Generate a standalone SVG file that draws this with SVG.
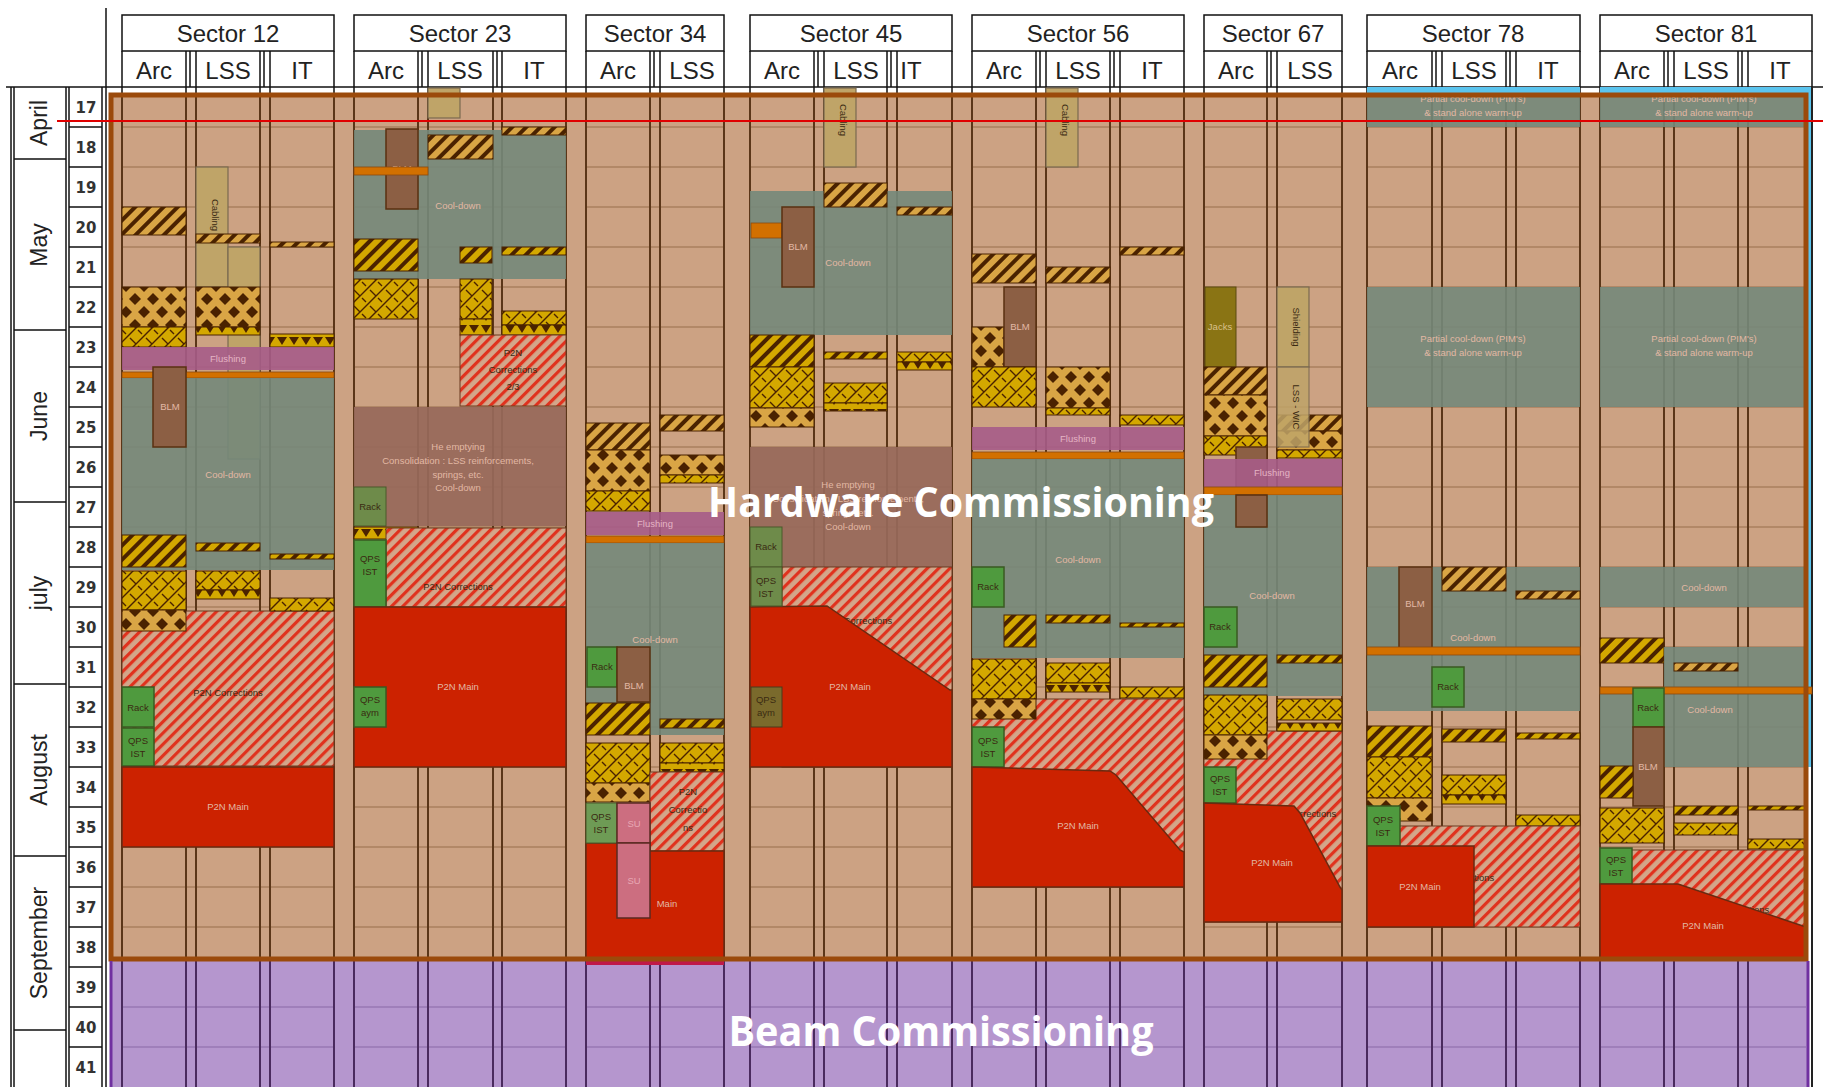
<svg xmlns="http://www.w3.org/2000/svg" width="1823" height="1087" viewBox="0 0 1823 1087">
<style>
.hdr{font-family:"Liberation Sans",Arial,sans-serif;font-size:24px;fill:#222;text-anchor:middle}
.mon{font-family:"Liberation Sans",Arial,sans-serif;font-size:23px;fill:#222;text-anchor:middle}
.wk{font-family:"DejaVu Sans",sans-serif;font-size:15px;font-weight:bold;fill:#333;text-anchor:middle}
.t{font-family:"Liberation Sans",Arial,sans-serif;font-size:9.5px;text-anchor:middle}
.lt{fill:#E2B8A4}
.dk{fill:#3A2A12}
.tl{fill:#74887A;opacity:.9}
.fl{fill:#A65C88;opacity:.9}
.or{fill:#D27000;stroke:#8A4A10;stroke-width:.8}
.blm{fill:#8C5F44;stroke:#5A3010;stroke-width:1.5}
.he{fill:#97685A;opacity:.93}
.rk{fill:#4F9A3E;stroke:#3A5A22;stroke-width:1.5}
.ro{fill:#6E8B4A;stroke:#4A5A2A;stroke-width:1}
.rm{fill:#CC2200;stroke:#6A2A10;stroke-width:1.5}
.rh{fill:url(#pR);stroke:#6A3A20;stroke-width:1}
.hl{fill:url(#pHL);stroke:#4A2200;stroke-width:1}
.hd{fill:url(#pHD);stroke:#4A2200;stroke-width:1}
.dm{fill:url(#pDm);stroke:#4A2200;stroke-width:1}
.bk{fill:url(#pBk);stroke:#4A2200;stroke-width:1}
.tr{fill:url(#pTr);stroke:#4A2200;stroke-width:1}
.yb{fill:#BFA468;stroke:#7A6A50;stroke-width:1.2}
.rl{stroke:#A9805F;stroke-width:1.5}
.cl{stroke:#5B3618;stroke-width:2}
.pl{stroke:#4A2A5E;stroke-width:2}
.prl{stroke:#9878B4;stroke-width:1.5}
.bl{stroke:#111;stroke-width:1.5;fill:none}
</style>
<defs>
<pattern id="pHL" width="10" height="10" patternUnits="userSpaceOnUse" patternTransform="rotate(45)"><rect width="10" height="10" fill="#D9A545"/><rect width="4" height="10" fill="#4A2200"/></pattern>
<pattern id="pHD" width="10" height="10" patternUnits="userSpaceOnUse" patternTransform="rotate(45)"><rect width="10" height="10" fill="#D4A800"/><rect width="4" height="10" fill="#4A2200"/></pattern>
<pattern id="pR" width="8" height="8" patternUnits="userSpaceOnUse" patternTransform="rotate(45)"><rect width="8" height="8" fill="#D3A68A"/><rect width="3.2" height="8" fill="#E0321E"/></pattern>
<pattern id="pDm" width="18" height="26" patternUnits="userSpaceOnUse"><rect width="18" height="26" fill="#D9A545"/><polygon points="9,7 15,13 9,19 3,13" fill="#4A2200"/><polygon points="0,-6 6,0 0,6 -6,0" fill="#4A2200"/><polygon points="18,-6 24,0 18,6 12,0" fill="#4A2200"/><polygon points="0,20 6,26 0,32 -6,26" fill="#4A2200"/><polygon points="18,20 24,26 18,32 12,26" fill="#4A2200"/></pattern>
<pattern id="pBk" width="16" height="16" patternUnits="userSpaceOnUse"><rect width="16" height="16" fill="#D4A800"/><path d="M0,16 L16,0 M-4,4 L4,-4 M12,20 L20,12 M2,2 L8,8 M10,10 L14,14" stroke="#4A2200" stroke-width="1.4" fill="none"/></pattern>
<pattern id="pTr" width="12" height="12" patternUnits="userSpaceOnUse"><rect width="12" height="12" fill="#D4A800"/><polygon points="1,1 11,1 6,9" fill="#4A2200"/></pattern>
</defs>

<rect width="1823" height="1087" fill="#fff"/>

<g id="axis">
  <line class="bl" x1="6" y1="87" x2="1823" y2="87"/>
  <line class="bl" x1="106" y1="8" x2="106" y2="1087"/>
  <line class="bl" x1="11" y1="87" x2="11" y2="1087"/>
  <line class="bl" x1="14" y1="87" x2="14" y2="1087"/>
  <line class="bl" x1="66" y1="87" x2="66" y2="1087"/>
  <line class="bl" x1="69" y1="87" x2="69" y2="1087"/>
  <line class="bl" x1="102" y1="87" x2="102" y2="1087"/>
  <path class="bl" d="M14,159H66M14,330H66M14,502H66M14,684H66M14,856H66M14,1030H66"/>
  <path class="bl" d="M69,127H102M69,167H102M69,207H102M69,247H102M69,287H102M69,327H102M69,367H102M69,407H102M69,447H102M69,487H102M69,527H102M69,567H102M69,607H102M69,647H102M69,687H102M69,727H102M69,767H102M69,807H102M69,847H102M69,887H102M69,927H102M69,967H102M69,1007H102M69,1047H102"/>
  <text class="mon" transform="translate(47,123) rotate(-90)">April</text>
  <text class="mon" transform="translate(47,245) rotate(-90)">May</text>
  <text class="mon" transform="translate(47,416) rotate(-90)">June</text>
  <text class="mon" transform="translate(47,593) rotate(-90)">july</text>
  <text class="mon" transform="translate(47,770) rotate(-90)">August</text>
  <text class="mon" transform="translate(47,943) rotate(-90)">September</text>
  <text class="wk" x="86" y="113">17</text><text class="wk" x="86" y="153">18</text><text class="wk" x="86" y="193">19</text><text class="wk" x="86" y="233">20</text><text class="wk" x="86" y="273">21</text><text class="wk" x="86" y="313">22</text><text class="wk" x="86" y="353">23</text><text class="wk" x="86" y="393">24</text><text class="wk" x="86" y="433">25</text><text class="wk" x="86" y="473">26</text><text class="wk" x="86" y="513">27</text><text class="wk" x="86" y="553">28</text><text class="wk" x="86" y="593">29</text><text class="wk" x="86" y="633">30</text><text class="wk" x="86" y="673">31</text><text class="wk" x="86" y="713">32</text><text class="wk" x="86" y="753">33</text><text class="wk" x="86" y="793">34</text><text class="wk" x="86" y="833">35</text><text class="wk" x="86" y="873">36</text><text class="wk" x="86" y="913">37</text><text class="wk" x="86" y="953">38</text><text class="wk" x="86" y="993">39</text><text class="wk" x="86" y="1033">40</text><text class="wk" x="86" y="1073">41</text>
</g>

<g id="headers">
  <rect class="bl" x="122" y="15" width="212" height="36"/><text class="hdr" x="228" y="42">Sector 12</text>
  <rect class="bl" x="354" y="15" width="212" height="36"/><text class="hdr" x="460" y="42">Sector 23</text>
  <rect class="bl" x="586" y="15" width="138" height="36"/><text class="hdr" x="655" y="42">Sector 34</text>
  <rect class="bl" x="750" y="15" width="202" height="36"/><text class="hdr" x="851" y="42">Sector 45</text>
  <rect class="bl" x="972" y="15" width="212" height="36"/><text class="hdr" x="1078" y="42">Sector 56</text>
  <rect class="bl" x="1204" y="15" width="138" height="36"/><text class="hdr" x="1273" y="42">Sector 67</text>
  <rect class="bl" x="1367" y="15" width="213" height="36"/><text class="hdr" x="1473" y="42">Sector 78</text>
  <rect class="bl" x="1600" y="15" width="212" height="36"/><text class="hdr" x="1706" y="42">Sector 81</text>
  <path class="bl" d="M122,51V95M186,51V95M190,51V87M196,51V95M260,51V95M264,51V87M270,51V95M334,51V95
  M354,51V95M418,51V95M422,51V87M428,51V95M493,51V95M497,51V87M502,51V95M566,51V95
  M586,51V95M650,51V95M654,51V87M660,51V95M724,51V95
  M750,51V95M814,51V95M818,51V87M824,51V95M887,51V95M891,51V87M897,51V95M952,51V95
  M972,51V95M1036,51V95M1040,51V87M1046,51V95M1110,51V95M1114,51V87M1120,51V95M1184,51V95
  M1204,51V95M1267,51V95M1271,51V87M1277,51V95M1342,51V95
  M1367,51V95M1432,51V95M1436,51V87M1442,51V95M1506,51V95M1510,51V87M1516,51V95M1580,51V95
  M1600,51V95M1664,51V95M1668,51V87M1674,51V95M1738,51V95M1742,51V87M1748,51V95M1812,51V95"/>
  <text class="hdr" x="154" y="79">Arc</text><text class="hdr" x="228" y="79">LSS</text><text class="hdr" x="302" y="79">IT</text>
  <text class="hdr" x="386" y="79">Arc</text><text class="hdr" x="460" y="79">LSS</text><text class="hdr" x="534" y="79">IT</text>
  <text class="hdr" x="618" y="79">Arc</text><text class="hdr" x="692" y="79">LSS</text>
  <text class="hdr" x="782" y="79">Arc</text><text class="hdr" x="856" y="79">LSS</text><text class="hdr" x="911" y="79">IT</text>
  <text class="hdr" x="1004" y="79">Arc</text><text class="hdr" x="1078" y="79">LSS</text><text class="hdr" x="1152" y="79">IT</text>
  <text class="hdr" x="1236" y="79">Arc</text><text class="hdr" x="1310" y="79">LSS</text>
  <text class="hdr" x="1400" y="79">Arc</text><text class="hdr" x="1474" y="79">LSS</text><text class="hdr" x="1548" y="79">IT</text>
  <text class="hdr" x="1632" y="79">Arc</text><text class="hdr" x="1706" y="79">LSS</text><text class="hdr" x="1780" y="79">IT</text>
</g>

<g id="background">
  <rect x="1367" y="87" width="213" height="8" fill="#5BC4EE"/>
  <rect x="1600" y="87" width="212" height="8" fill="#5BC4EE"/>
  <rect x="1806" y="95" width="6" height="672" fill="#5BC4EE"/>
  <rect x="111" y="95" width="1695" height="864" fill="#CCA283"/>
  <rect x="111" y="961" width="1697" height="126" fill="#B596CE"/>
  <path class="rl" d="M122,127H334M122,167H334M122,207H334M122,247H334M122,287H334M122,327H334M122,367H334M122,407H334M122,447H334M122,487H334M122,527H334M122,567H334M122,607H334M122,647H334M122,687H334M122,727H334M122,767H334M122,807H334M122,847H334M122,887H334M122,927H334
  M354,127H566M354,167H566M354,207H566M354,247H566M354,287H566M354,327H566M354,367H566M354,407H566M354,447H566M354,487H566M354,527H566M354,567H566M354,607H566M354,647H566M354,687H566M354,727H566M354,767H566M354,807H566M354,847H566M354,887H566M354,927H566
  M586,127H724M586,167H724M586,207H724M586,247H724M586,287H724M586,327H724M586,367H724M586,407H724M586,447H724M586,487H724M586,527H724M586,567H724M586,607H724M586,647H724M586,687H724M586,727H724M586,767H724M586,807H724M586,847H724M586,887H724M586,927H724
  M750,127H952M750,167H952M750,207H952M750,247H952M750,287H952M750,327H952M750,367H952M750,407H952M750,447H952M750,487H952M750,527H952M750,567H952M750,607H952M750,647H952M750,687H952M750,727H952M750,767H952M750,807H952M750,847H952M750,887H952M750,927H952
  M972,127H1184M972,167H1184M972,207H1184M972,247H1184M972,287H1184M972,327H1184M972,367H1184M972,407H1184M972,447H1184M972,487H1184M972,527H1184M972,567H1184M972,607H1184M972,647H1184M972,687H1184M972,727H1184M972,767H1184M972,807H1184M972,847H1184M972,887H1184M972,927H1184
  M1204,127H1342M1204,167H1342M1204,207H1342M1204,247H1342M1204,287H1342M1204,327H1342M1204,367H1342M1204,407H1342M1204,447H1342M1204,487H1342M1204,527H1342M1204,567H1342M1204,607H1342M1204,647H1342M1204,687H1342M1204,727H1342M1204,767H1342M1204,807H1342M1204,847H1342M1204,887H1342M1204,927H1342
  M1367,127H1580M1367,167H1580M1367,207H1580M1367,247H1580M1367,287H1580M1367,327H1580M1367,367H1580M1367,407H1580M1367,447H1580M1367,487H1580M1367,527H1580M1367,567H1580M1367,607H1580M1367,647H1580M1367,687H1580M1367,727H1580M1367,767H1580M1367,807H1580M1367,847H1580M1367,887H1580M1367,927H1580
  M1600,127H1806M1600,167H1806M1600,207H1806M1600,247H1806M1600,287H1806M1600,327H1806M1600,367H1806M1600,407H1806M1600,447H1806M1600,487H1806M1600,527H1806M1600,567H1806M1600,607H1806M1600,647H1806M1600,687H1806M1600,727H1806M1600,767H1806M1600,807H1806M1600,847H1806M1600,887H1806M1600,927H1806"/>
  <path class="prl" d="M122,1007H334M354,1007H566M586,1007H724M750,1007H952M972,1007H1184M1204,1007H1342M1367,1007H1580M1600,1007H1806M122,1047H334M354,1047H566M586,1047H724M750,1047H952M972,1047H1184M1204,1047H1342M1367,1047H1580M1600,1047H1806"/>
  <path class="cl" d="M122,95V961M186,95V961M196,95V961M260,95V961M270,95V961M334,95V961M354,95V961M418,95V961M428,95V961M493,95V961M502,95V961M566,95V961M586,95V961M650,95V961M660,95V961M724,95V961M750,95V961M814,95V961M824,95V961M887,95V961M897,95V961M952,95V961M972,95V961M1036,95V961M1046,95V961M1110,95V961M1120,95V961M1184,95V961M1204,95V961M1267,95V961M1277,95V961M1342,95V961M1367,95V961M1432,95V961M1442,95V961M1506,95V961M1516,95V961M1580,95V961M1600,95V961M1664,95V961M1674,95V961M1738,95V961M1748,95V961"/>
  <path class="pl" d="M122,961V1087M186,961V1087M196,961V1087M260,961V1087M270,961V1087M334,961V1087M354,961V1087M418,961V1087M428,961V1087M493,961V1087M502,961V1087M566,961V1087M586,961V1087M650,961V1087M660,961V1087M724,961V1087M750,961V1087M814,961V1087M824,961V1087M887,961V1087M897,961V1087M952,961V1087M972,961V1087M1036,961V1087M1046,961V1087M1110,961V1087M1120,961V1087M1184,961V1087M1204,961V1087M1267,961V1087M1277,961V1087M1342,961V1087M1367,961V1087M1432,961V1087M1442,961V1087M1506,961V1087M1516,961V1087M1580,961V1087M1600,961V1087M1664,961V1087M1674,961V1087M1738,961V1087M1748,961V1087"/>
  <line x1="1812" y1="87" x2="1812" y2="1087" stroke="#222" stroke-width="2"/>
</g>

<g id="sector12">
  <rect class="yb" x="196" y="167" width="32" height="120"/>
  <text class="t dk" font-size="8" transform="translate(212,215) rotate(90)">Cabling</text>
  <rect class="yb" x="228" y="247" width="32" height="212"/>
  <rect class="hl" x="122" y="207" width="64" height="28"/>
  <rect class="hl" x="196" y="234" width="64" height="9"/>
  <rect class="hl" x="270" y="242" width="64" height="5"/>
  <rect class="dm" x="122" y="287" width="64" height="40"/>
  <rect class="bk" x="122" y="327" width="64" height="20"/>
  <rect class="dm" x="196" y="287" width="64" height="40"/>
  <rect class="tr" x="196" y="327" width="64" height="8"/>
  <rect class="tr" x="270" y="334" width="64" height="13"/>
  <rect class="fl" x="122" y="347" width="212" height="23"/>
  <text class="t" fill="#E4B4C4" x="228" y="362">Flushing</text>
  <rect class="or" x="122" y="372" width="212" height="6"/>
  <rect class="tl" x="122" y="378" width="212" height="192"/>
  <text class="t lt" x="228" y="478">Cool-down</text>
  <rect class="blm" x="153" y="367" width="33" height="80"/>
  <text class="t lt" x="170" y="410">BLM</text>
  <rect class="hd" x="122" y="535" width="64" height="32"/>
  <rect class="hd" x="196" y="543" width="64" height="8"/>
  <rect class="hd" x="270" y="554" width="64" height="5"/>
  <rect class="rh" x="122" y="611" width="212" height="155"/>
  <rect class="bk" x="122" y="571" width="64" height="39"/>
  <rect class="dm" x="122" y="610" width="64" height="21"/>
  <rect class="bk" x="196" y="571" width="64" height="19"/>
  <rect class="tr" x="196" y="590" width="64" height="9"/>
  <rect class="bk" x="270" y="598" width="64" height="13"/>
  <text class="t dk" font-size="11" x="228" y="696">P2N Corrections</text>
  <rect class="rk" x="122" y="687" width="32" height="40"/>
  <text class="t dk" x="138" y="711">Rack</text>
  <rect class="rk" x="122" y="728" width="32" height="38"/>
  <text class="t dk" x="138" y="744">QPS</text><text class="t dk" x="138" y="757">IST</text>
  <rect class="rm" x="122" y="767" width="212" height="80"/>
  <text class="t lt" x="228" y="810">P2N Main</text>
</g>

<g id="sector23">
  <rect class="yb" x="428" y="88" width="32" height="30"/>
  <rect class="tl" x="354" y="130" width="212" height="149"/>
  <text class="t lt" x="458" y="209">Cool-down</text>
  <rect class="blm" x="386" y="129" width="32" height="80"/>
  <text class="t lt" x="402" y="172">BLM</text>
  <rect class="or" x="354" y="167" width="74" height="8"/>
  <rect class="hl" x="428" y="135" width="65" height="24"/>
  <rect class="hl" x="502" y="127" width="64" height="8"/>
  <rect class="hd" x="354" y="239" width="64" height="32"/>
  <rect class="hd" x="460" y="247" width="32" height="16"/>
  <rect class="hd" x="502" y="247" width="64" height="8"/>
  <rect class="bk" x="354" y="279" width="64" height="40"/>
  <rect class="bk" x="460" y="279" width="32" height="40"/>
  <rect class="tr" x="460" y="319" width="32" height="16"/>
  <rect class="bk" x="502" y="311" width="64" height="14"/>
  <rect class="tr" x="502" y="325" width="64" height="10"/>
  <rect class="rh" x="460" y="335" width="106" height="71"/>
  <text class="t dk" font-size="10" x="513" y="356">P2N</text>
  <text class="t dk" font-size="10" x="513" y="373">Corrections</text>
  <text class="t dk" font-size="10" x="513" y="390">2/3</text>
  <rect class="he" x="354" y="407" width="212" height="119"/>
  <text class="t lt" x="458" y="450">He emptying</text>
  <text class="t lt" x="458" y="464">Consolidation : LSS reinforcements,</text>
  <text class="t lt" x="458" y="478">springs, etc.</text>
  <text class="t lt" x="458" y="491">Cool-down</text>
  <rect class="ro" x="354" y="487" width="32" height="39"/>
  <text class="t dk" x="370" y="510">Rack</text>
  <rect class="tr" x="354" y="527" width="64" height="12"/>
  <rect class="rh" x="386" y="528" width="180" height="79"/>
  <text class="t dk" font-size="11" x="458" y="590">P2N Corrections</text>
  <rect class="rk" x="354" y="540" width="32" height="67"/>
  <text class="t dk" x="370" y="562">QPS</text><text class="t dk" x="370" y="575">IST</text>
  <rect class="rm" x="354" y="607" width="212" height="160"/>
  <text class="t lt" x="458" y="690">P2N Main</text>
  <rect class="rk" x="354" y="687" width="32" height="40"/>
  <text class="t dk" x="370" y="703">QPS</text><text class="t dk" x="370" y="716">aym</text>
</g>

<g id="sector34">
  <rect class="hl" x="586" y="423" width="64" height="27"/>
  <rect class="dm" x="586" y="450" width="64" height="41"/>
  <rect class="bk" x="586" y="491" width="64" height="20"/>
  <rect class="hl" x="660" y="415" width="64" height="16"/>
  <rect class="dm" x="660" y="455" width="64" height="20"/>
  <rect class="bk" x="660" y="475" width="64" height="8"/>
  <rect class="fl" x="586" y="512" width="138" height="23"/>
  <text class="t" fill="#E4B4C4" x="655" y="527">Flushing</text>
  <rect class="or" x="586" y="536" width="138" height="7"/>
  <rect class="tl" x="586" y="543" width="138" height="192"/>
  <text class="t lt" x="655" y="643">Cool-down</text>
  <rect class="rk" x="587" y="647" width="30" height="40"/>
  <text class="t dk" x="602" y="670">Rack</text>
  <rect class="blm" x="617" y="647" width="33" height="55"/>
  <text class="t lt" x="634" y="689">BLM</text>
  <rect class="hd" x="586" y="703" width="64" height="32"/>
  <rect class="hd" x="660" y="719" width="64" height="9"/>
  <rect class="bk" x="586" y="743" width="64" height="40"/>
  <rect class="dm" x="586" y="783" width="64" height="19"/>
  <rect class="bk" x="660" y="743" width="64" height="20"/>
  <rect class="tr" x="660" y="763" width="64" height="9"/>
  <rect class="rh" x="650" y="772" width="74" height="79"/>
  <text class="t dk" font-size="10" x="688" y="795">P2N</text>
  <text class="t dk" font-size="10" x="688" y="813">Correctio</text>
  <text class="t dk" font-size="10" x="688" y="831">ns</text>
  <rect x="586" y="959" width="138" height="6" fill="#C01848"/>
  <path class="rm" d="M586,843H650V851H724V959H586Z"/>
  <text class="t lt" x="667" y="907">Main</text>
  <rect fill="#6E9B55" stroke="#4A5A2A" x="586" y="803" width="31" height="40"/>
  <text class="t dk" x="601" y="820">QPS</text><text class="t dk" x="601" y="833">IST</text>
  <rect fill="#CC6E80" stroke="#5A2A20" stroke-width="1.5" x="617" y="803" width="33" height="40"/>
  <text class="t" fill="#E8A8B4" x="634" y="827">SU</text>
  <rect fill="#CC6E80" stroke="#5A2A20" stroke-width="1.5" x="617" y="843" width="33" height="75"/>
  <text class="t" fill="#E8A8B4" x="634" y="884">SU</text>
</g>

<g id="sector45">
  <rect class="yb" x="824" y="88" width="32" height="79"/>
  <text class="t dk" font-size="8" transform="translate(840,120) rotate(90)">Cabling</text>
  <rect class="tl" x="750" y="191" width="202" height="144"/>
  <text class="t lt" x="848" y="266">Cool-down</text>
  <rect class="hl" x="824" y="183" width="63" height="24"/>
  <rect class="hl" x="897" y="207" width="55" height="8"/>
  <rect class="or" x="751" y="223" width="31" height="15"/>
  <rect class="blm" x="782" y="207" width="32" height="80"/>
  <text class="t lt" x="798" y="250">BLM</text>
  <rect class="hd" x="750" y="335" width="64" height="32"/>
  <rect class="bk" x="750" y="367" width="64" height="41"/>
  <rect class="dm" x="750" y="408" width="64" height="19"/>
  <rect class="hd" x="824" y="352" width="63" height="7"/>
  <rect class="bk" x="897" y="352" width="55" height="10"/>
  <rect class="tr" x="897" y="362" width="55" height="8"/>
  <rect class="bk" x="824" y="383" width="63" height="20"/>
  <rect class="tr" x="824" y="403" width="63" height="8"/>
  <rect class="he" x="750" y="447" width="202" height="120"/>
  <text class="t lt" x="848" y="488">He emptying</text>
  <text class="t lt" x="848" y="502">Consolidation : LSS reinforcements,</text>
  <text class="t lt" x="848" y="516">springs, etc.</text>
  <text class="t lt" x="848" y="530">Cool-down</text>
  <rect class="ro" x="750" y="527" width="32" height="40"/>
  <text class="t dk" x="766" y="550">Rack</text>
  <rect class="rh" x="782" y="567" width="170" height="200"/>
  <text class="t dk" font-size="11" x="868" y="624">Corrections</text>
  <path class="rm" d="M750,607L827,606L950,690L952,690L952,767L750,767Z"/>
  <text class="t lt" x="850" y="690">P2N Main</text>
  <rect class="ro" x="751" y="567" width="31" height="39"/>
  <text class="t dk" x="766" y="584">QPS</text><text class="t dk" x="766" y="597">IST</text>
  <rect fill="#7A6A2C" stroke="#4A3A1A" x="751" y="687" width="31" height="40"/>
  <text class="t dk" x="766" y="703">QPS</text><text class="t dk" x="766" y="716">aym</text>
</g>

<g id="sector56">
  <rect class="yb" x="1046" y="88" width="32" height="79"/>
  <text class="t dk" font-size="8" transform="translate(1062,120) rotate(90)">Cabling</text>
  <rect class="hl" x="972" y="254" width="64" height="29"/>
  <rect class="hl" x="1046" y="267" width="64" height="16"/>
  <rect class="hl" x="1120" y="247" width="64" height="8"/>
  <rect class="dm" x="972" y="327" width="32" height="40"/>
  <rect class="blm" x="1004" y="287" width="32" height="80"/>
  <text class="t lt" x="1020" y="330">BLM</text>
  <rect class="bk" x="972" y="367" width="64" height="40"/>
  <rect class="dm" x="1046" y="367" width="64" height="41"/>
  <rect class="bk" x="1046" y="408" width="64" height="7"/>
  <rect class="bk" x="1120" y="415" width="64" height="10"/>
  <rect class="fl" x="972" y="427" width="212" height="23"/>
  <text class="t" fill="#E4B4C4" x="1078" y="442">Flushing</text>
  <rect class="or" x="972" y="452" width="212" height="7"/>
  <rect class="tl" x="972" y="459" width="212" height="199"/>
  <text class="t lt" x="1078" y="563">Cool-down</text>
  <rect class="rk" x="972" y="567" width="32" height="40"/>
  <text class="t dk" x="988" y="590">Rack</text>
  <rect class="hd" x="1004" y="615" width="32" height="32"/>
  <rect class="hd" x="1046" y="615" width="64" height="8"/>
  <rect class="hd" x="1120" y="623" width="64" height="4"/>
  <rect class="rh" x="972" y="699" width="212" height="188"/>
  <rect class="bk" x="972" y="659" width="64" height="40"/>
  <rect class="dm" x="972" y="699" width="64" height="20"/>
  <rect class="bk" x="1046" y="663" width="64" height="20"/>
  <rect class="tr" x="1046" y="683" width="64" height="9"/>
  <rect class="bk" x="1120" y="687" width="64" height="11"/>
  <text class="t dk" font-size="11" x="1090" y="778">Corrections</text>
  <rect class="rk" x="972" y="727" width="32" height="40"/>
  <text class="t dk" x="988" y="744">QPS</text><text class="t dk" x="988" y="757">IST</text>
  <path class="rm" d="M972,767L1110,771L1116,775L1180,850L1184,852L1184,887L972,887Z"/>
  <text class="t lt" x="1078" y="829">P2N Main</text>
</g>

<g id="sector67">
  <rect fill="#8A7414" stroke="#5A4A10" x="1205" y="287" width="31" height="80"/>
  <text class="t" fill="#D8C08A" x="1220" y="330">Jacks</text>
  <rect class="yb" x="1277" y="287" width="32" height="80"/>
  <text class="t dk" font-size="8" transform="translate(1293,327) rotate(90)">Shielding</text>
  <rect class="hl" x="1204" y="367" width="63" height="28"/>
  <rect class="dm" x="1204" y="395" width="63" height="41"/>
  <rect class="bk" x="1204" y="436" width="63" height="19"/>
  <rect class="hl" x="1277" y="415" width="65" height="16"/>
  <rect class="dm" x="1277" y="431" width="65" height="19"/>
  <rect class="bk" x="1277" y="450" width="65" height="8"/>
  <rect class="yb" opacity=".85" x="1277" y="367" width="32" height="80"/>
  <text class="t dk" font-size="8" transform="translate(1293,407) rotate(90)">LSS - WIC</text>
  <rect class="blm" x="1236" y="447" width="31" height="80"/>
  <text class="t lt" x="1252" y="500">BLM</text>
  <rect class="fl" x="1204" y="459" width="138" height="28"/>
  <text class="t" fill="#E4B4C4" x="1272" y="476">Flushing</text>
  <rect class="or" x="1204" y="487" width="138" height="8"/>
  <rect class="tl" x="1204" y="495" width="138" height="201"/>
  <rect class="blm" x="1236" y="495" width="31" height="32"/>
  <text class="t lt" x="1272" y="599">Cool-down</text>
  <rect class="rk" x="1204" y="607" width="33" height="40"/>
  <text class="t dk" x="1220" y="630">Rack</text>
  <rect class="hd" x="1204" y="655" width="63" height="32"/>
  <rect class="hd" x="1277" y="655" width="65" height="8"/>
  <rect class="rh" x="1204" y="731" width="138" height="191"/>
  <rect class="bk" x="1204" y="695" width="63" height="40"/>
  <rect class="dm" x="1204" y="735" width="63" height="24"/>
  <rect class="bk" x="1277" y="699" width="65" height="21"/>
  <rect class="tr" x="1277" y="723" width="65" height="8"/>
  <text class="t dk" font-size="9" x="1312" y="817">Corrections</text>
  <rect class="rk" x="1204" y="767" width="32" height="36"/>
  <text class="t dk" x="1220" y="782">QPS</text><text class="t dk" x="1220" y="795">IST</text>
  <path class="rm" d="M1204,803L1294,806L1300,813L1340,887L1342,890L1342,922L1204,922Z"/>
  <text class="t lt" x="1272" y="866">P2N Main</text>
</g>

<g id="sector78">
  <rect class="tl" x="1367" y="95" width="213" height="32"/>
  <text class="t lt" font-size="8" x="1473" y="102">Partial cool-down (PIM's)</text>
  <text class="t lt" font-size="8" x="1473" y="116">&amp; stand alone warm-up</text>
  <rect class="tl" x="1367" y="287" width="213" height="120"/>
  <text class="t lt" font-size="8" x="1473" y="342">Partial cool-down (PIM's)</text>
  <text class="t lt" font-size="8" x="1473" y="356">&amp; stand alone warm-up</text>
  <rect class="tl" x="1367" y="567" width="213" height="144"/>
  <text class="t lt" x="1473" y="641">Cool-down</text>
  <rect class="blm" x="1399" y="567" width="33" height="81"/>
  <text class="t lt" x="1415" y="607">BLM</text>
  <rect class="hl" x="1442" y="567" width="64" height="24"/>
  <rect class="hl" x="1516" y="591" width="64" height="8"/>
  <rect class="or" x="1367" y="647" width="213" height="8"/>
  <rect class="rk" x="1432" y="667" width="32" height="40"/>
  <text class="t dk" x="1448" y="690">Rack</text>
  <rect class="hd" x="1367" y="726" width="65" height="31"/>
  <rect class="bk" x="1367" y="757" width="65" height="41"/>
  <rect class="dm" x="1367" y="798" width="65" height="23"/>
  <rect class="hd" x="1442" y="729" width="64" height="13"/>
  <rect class="bk" x="1442" y="775" width="64" height="20"/>
  <rect class="tr" x="1442" y="795" width="64" height="9"/>
  <rect class="hd" x="1516" y="733" width="64" height="6"/>
  <rect class="bk" x="1516" y="815" width="64" height="11"/>
  <rect class="rh" x="1367" y="826" width="213" height="101"/>
  <text class="t dk" font-size="10" x="1470" y="881">Corrections</text>
  <rect class="rk" x="1367" y="806" width="33" height="40"/>
  <text class="t dk" x="1383" y="823">QPS</text><text class="t dk" x="1383" y="836">IST</text>
  <rect class="rm" x="1367" y="846" width="107" height="81"/>
  <text class="t lt" x="1420" y="890">P2N Main</text>
</g>

<g id="sector81">
  <rect class="tl" x="1600" y="95" width="206" height="32"/>
  <text class="t lt" font-size="8" x="1704" y="102">Partial cool-down (PIM's)</text>
  <text class="t lt" font-size="8" x="1704" y="116">&amp; stand alone warm-up</text>
  <rect class="tl" x="1600" y="287" width="206" height="120"/>
  <text class="t lt" font-size="8" x="1704" y="342">Partial cool-down (PIM's)</text>
  <text class="t lt" font-size="8" x="1704" y="356">&amp; stand alone warm-up</text>
  <rect class="tl" x="1600" y="567" width="206" height="40"/>
  <text class="t lt" x="1704" y="591">Cool-down</text>
  <rect class="hd" x="1600" y="638" width="64" height="25"/>
  <path class="tl" d="M1664,647H1806V767H1600V688H1664Z"/>
  <rect class="hl" x="1674" y="663" width="64" height="8"/>
  <rect class="or" x="1600" y="687" width="212" height="7"/>
  <rect class="rk" x="1633" y="688" width="31" height="39"/>
  <text class="t dk" x="1648" y="711">Rack</text>
  <rect class="blm" x="1633" y="727" width="31" height="79"/>
  <text class="t lt" x="1648" y="770">BLM</text>
  <text class="t lt" x="1710" y="713">Cool-down</text>
  <rect class="hd" x="1600" y="766" width="33" height="32"/>
  <rect class="hd" x="1674" y="806" width="64" height="9"/>
  <rect class="bk" x="1674" y="823" width="64" height="12"/>
  <rect class="hd" x="1748" y="806" width="58" height="4"/>
  <rect class="bk" x="1748" y="839" width="58" height="10"/>
  <rect class="bk" x="1600" y="808" width="64" height="35"/>
  <rect class="rh" x="1600" y="850" width="206" height="108"/>
  <text class="t dk" font-size="10" x="1745" y="913">Corrections</text>
  <rect class="rk" x="1600" y="848" width="32" height="36"/>
  <text class="t dk" x="1616" y="863">QPS</text><text class="t dk" x="1616" y="876">IST</text>
  <path class="rm" d="M1600,884L1678,884L1806,927L1806,958L1600,958Z"/>
  <text class="t lt" x="1703" y="929">P2N Main</text>
</g>

<g id="frames">
  <rect x="111" y="95" width="1695" height="864" fill="none" stroke="#9B4A0B" stroke-width="5"/>
  <path d="M111,961V1087M1808,961V1087" stroke="#7030A0" stroke-width="3"/>
  <line x1="57" y1="121" x2="1823" y2="121" stroke="#E00000" stroke-width="2"/>
  <text x="961" y="517" font-family="'Open Sans','Liberation Sans',sans-serif" font-weight="bold" font-size="42" fill="#FFFFFF" text-anchor="middle" textLength="506" lengthAdjust="spacingAndGlyphs">Hardware Commissioning</text>
  <text x="941" y="1046" font-family="'Open Sans','Liberation Sans',sans-serif" font-weight="bold" font-size="42" fill="#FFFFFF" text-anchor="middle" textLength="425" lengthAdjust="spacingAndGlyphs">Beam Commissioning</text>
</g>
</svg>
